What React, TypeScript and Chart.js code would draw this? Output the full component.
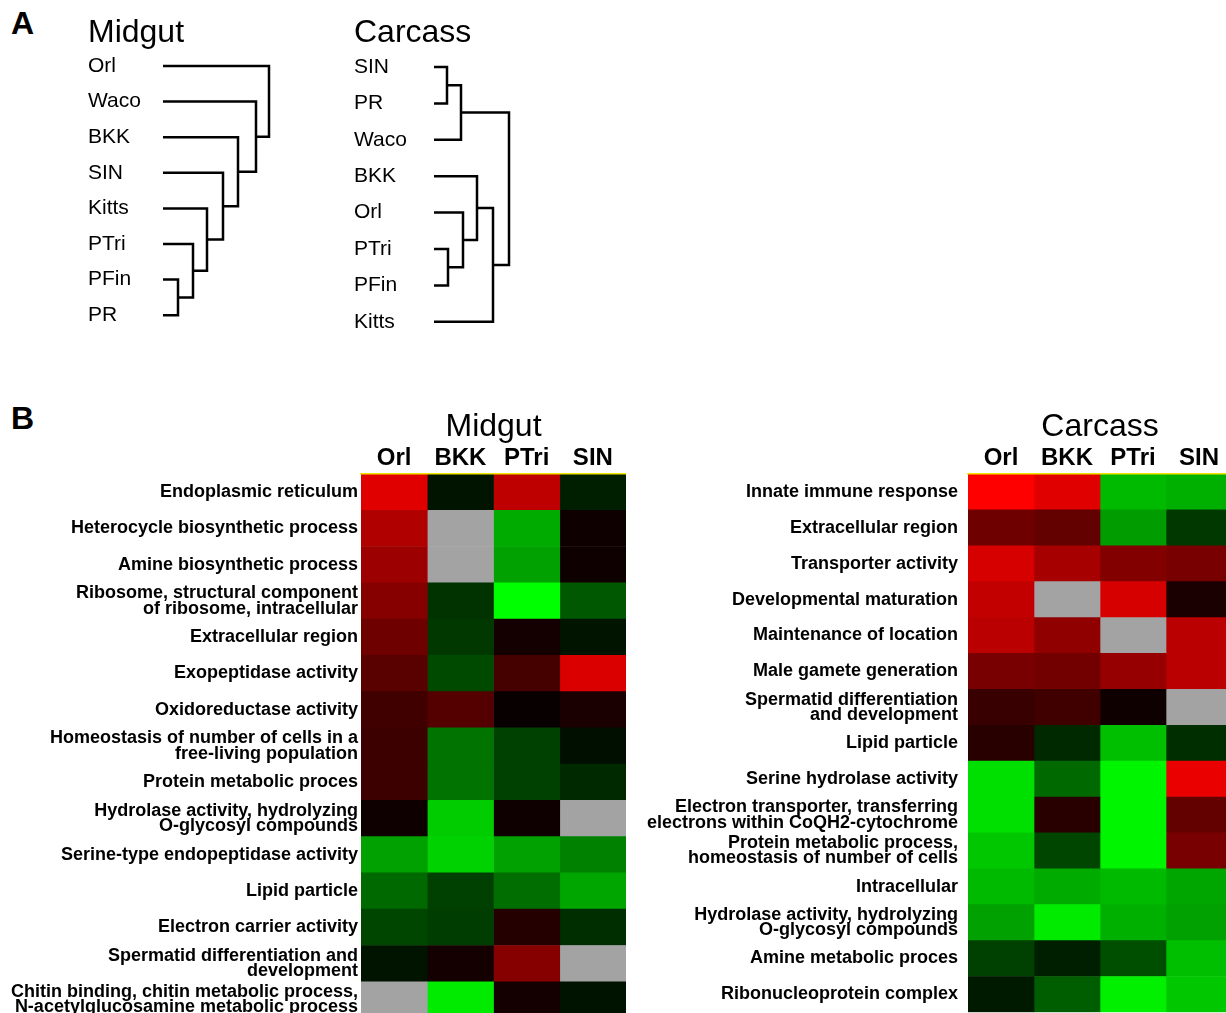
import React, { useEffect, useRef } from 'react';
import { Chart, registerables } from 'chart.js';

Chart.register(...registerables);

const FONT = '"Liberation Sans", Arial, Helvetica, sans-serif';

// ---------- Panel A: dendrograms ----------
const midgutLeaves = ['Orl', 'Waco', 'BKK', 'SIN', 'Kitts', 'PTri', 'PFin', 'PR'];
const midgutMergeLeft = ['PFin', 'PTri', 'Kitts', 'SIN', 'BKK', 'Waco', 'Orl'];
const midgutMergeRight = ['PR', '#0', '#1', '#2', '#3', '#4', '#5'];
const midgutMergeHeight = [15, 30, 44, 60, 75, 93, 106];

const carcassLeaves = ['SIN', 'PR', 'Waco', 'BKK', 'Orl', 'PTri', 'PFin', 'Kitts'];
const carcassMergeLeft = ['SIN', '#0', 'PTri', 'Orl', 'BKK', '#4', '#1'];
const carcassMergeRight = ['PR', 'Waco', 'PFin', '#2', '#3', 'Kitts', '#5'];
const carcassMergeHeight = [13, 27, 14, 29, 43, 59, 75];

// ---------- Panel B: heatmaps ----------
const heatColumns = ['Orl', 'BKK', 'PTri', 'SIN'];

const midgutTerms: (string | string[])[] = [
  'Endoplasmic reticulum',
  'Heterocycle biosynthetic process',
  'Amine biosynthetic process',
  ['Ribosome, structural component', 'of ribosome, intracellular'],
  'Extracellular region',
  'Exopeptidase activity',
  'Oxidoreductase activity',
  ['Homeostasis of number of cells in a', 'free-living population'],
  'Protein metabolic proces',
  ['Hydrolase activity, hydrolyzing', 'O-glycosyl compounds'],
  'Serine-type endopeptidase activity',
  'Lipid particle',
  'Electron carrier activity',
  ['Spermatid differentiation and', 'development'],
  ['Chitin binding, chitin metabolic process,', 'N-acetylglucosamine metabolic process'],
];
// positive = red (up), negative = green (down), null = no data (grey)
const midgutOrl = [0.88, 0.69, 0.61, 0.53, 0.43, 0.35, 0.25, 0.24, 0.24, 0.06, -0.63, -0.41, -0.27, -0.08, null];
const midgutBKK = [-0.08, null, null, -0.2, -0.22, -0.29, 0.33, -0.45, -0.45, -0.8, -0.82, -0.25, -0.24, 0.08, -0.92];
const midgutPTri = [0.75, -0.67, -0.63, -1.0, 0.08, 0.27, 0.03, -0.25, -0.25, 0.06, -0.63, -0.43, 0.14, 0.53, 0.08];
const midgutSIN = [-0.12, 0.06, 0.06, -0.35, -0.08, 0.86, 0.1, -0.06, -0.16, null, -0.51, -0.65, -0.18, null, -0.07];

const carcassTerms: (string | string[])[] = [
  'Innate immune response',
  'Extracellular region',
  'Transporter activity',
  'Developmental maturation',
  'Maintenance of location',
  'Male gamete generation',
  ['Spermatid differentiation', 'and development'],
  'Lipid particle',
  'Serine hydrolase activity',
  ['Electron transporter, transferring', 'electrons within CoQH2-cytochrome'],
  ['Protein metabolic process,', 'homeostasis of number of cells'],
  'Intracellular',
  ['Hydrolase activity, hydrolyzing', 'O-glycosyl compounds'],
  'Amine metabolic proces',
  'Ribonucleoprotein complex',
];
const carcassOrl = [1.0, 0.43, 0.84, 0.76, 0.73, 0.47, 0.22, 0.16, -0.88, -0.88, -0.78, -0.73, -0.63, -0.25, -0.1];
const carcassBKK = [0.88, 0.39, 0.65, null, 0.57, 0.45, 0.25, -0.16, -0.41, 0.16, -0.27, -0.67, -0.92, -0.12, -0.37];
const carcassPTri = [-0.73, -0.61, 0.51, 0.84, null, 0.59, 0.06, -0.75, -0.96, -0.96, -0.96, -0.73, -0.69, -0.31, -0.94];
const carcassSIN = [-0.69, -0.22, 0.47, 0.1, 0.73, 0.73, null, -0.18, 0.92, 0.39, 0.47, -0.65, -0.63, -0.75, -0.78];

function colorFor(v: number | null): string {
  if (v === null || v === undefined) return '#a3a3a3';
  const c = Math.round(255 * Math.min(1, Math.abs(v)));
  return v >= 0 ? `rgb(${c},0,0)` : `rgb(0,${c},0)`;
}

function dendroConfig(
  title: string,
  leaves: string[],
  mL: string[],
  mR: string[],
  mH: number[],
  xMax: number,
  yMin: number,
  yMax: number,
  axisWidth: number,
  padLeft: number
): any {
  const pos: Record<string, { x: number; y: number }> = {};
  leaves.forEach((n, i) => (pos[n] = { x: 0, y: i }));
  const datasets = mL.map((l, k) => {
    const a = pos[l];
    const b = pos[mR[k]];
    const h = mH[k];
    pos['#' + k] = { x: h, y: (a.y + b.y) / 2 };
    return {
      data: [
        { x: a.x, y: a.y },
        { x: h, y: a.y },
        { x: h, y: b.y },
        { x: b.x, y: b.y },
      ],
      showLine: true,
      borderColor: '#000',
      borderWidth: 2.5,
      pointRadius: 0,
      fill: false,
      tension: 0,
      clip: false,
    };
  });
  return {
    type: 'scatter',
    data: { datasets },
    options: {
      responsive: false,
      animation: false,
      devicePixelRatio: 1,
      layout: { padding: { left: padLeft, right: 0, top: 0, bottom: 18 } },
      plugins: {
        legend: { display: false },
        tooltip: { enabled: false },
        title: {
          display: true,
          text: title,
          align: 'start',
          color: '#000',
          font: { family: FONT, size: 32, weight: 'normal' },
          padding: { top: 14, bottom: 0 },
        },
      },
      scales: {
        x: { type: 'linear', display: false, min: 0, max: xMax },
        y: {
          type: 'linear',
          reverse: true,
          min: yMin,
          max: yMax,
          grid: { display: false, drawTicks: false },
          border: { display: false },
          afterFit: (s: any) => {
            s.width = axisWidth;
          },
          afterBuildTicks: (s: any) => {
            s.ticks = leaves.map((_, i) => ({ value: i }));
          },
          ticks: {
            autoSkip: false,
            crossAlign: 'far',
            padding: 0,
            color: '#000',
            font: { family: FONT, size: 21 },
            callback: (v: any) => leaves[Math.round(v)],
          },
        },
      },
    },
  };
}

function heatConfig(
  title: string,
  terms: (string | string[])[],
  cols: (number | null)[][],
  axisWidth: number,
  tickPad: number
): any {
  return {
    type: 'bar',
    data: {
      labels: terms,
      datasets: heatColumns.map((c, j) => ({
        label: c,
        data: terms.map(() => 1),
        backgroundColor: cols[j].map(colorFor),
        borderWidth: 0,
        barPercentage: 1,
        categoryPercentage: 1,
      })),
    },
    options: {
      indexAxis: 'y',
      responsive: false,
      animation: false,
      devicePixelRatio: 1,
      layout: { padding: { left: 0, right: 0, top: 0, bottom: 12 } },
      plugins: { legend: { display: false }, tooltip: { enabled: false } },
      scales: {
        x: {
          type: 'linear',
          position: 'top',
          stacked: true,
          min: 0,
          max: heatColumns.length,
          grid: { display: false, drawTicks: false },
          border: { display: true, color: '#f2e600', width: 1.5, z: 1 },
          afterFit: (s: any) => {
            s.height = 74;
          },
          afterBuildTicks: (s: any) => {
            s.ticks = heatColumns.map((_, j) => ({ value: j + 0.5 }));
          },
          ticks: {
            autoSkip: false,
            maxRotation: 0,
            padding: 1,
            color: '#000',
            font: { family: FONT, size: 24, weight: 'bold' },
            callback: (v: any) => heatColumns[Math.floor(v)],
          },
          title: {
            display: true,
            text: title,
            color: '#000',
            font: { family: FONT, size: 32, weight: 'normal' },
            padding: { top: 8, bottom: 0 },
          },
        },
        y: {
          type: 'category',
          stacked: true,
          grid: { display: false, drawTicks: false },
          border: { display: false },
          afterFit: (s: any) => {
            s.width = axisWidth;
          },
          ticks: {
            autoSkip: false,
            padding: tickPad,
            color: '#000',
            font: { family: FONT, size: 18, weight: 'bold', lineHeight: 0.85 },
          },
        },
      },
    },
  };
}

function ChartBox(props: { left: number; top: number; width: number; height: number; make: () => any }) {
  const ref = useRef<HTMLCanvasElement | null>(null);
  useEffect(() => {
    const chart = new Chart(ref.current as HTMLCanvasElement, props.make());
    return () => chart.destroy();
  }, []);
  return (
    <canvas
      ref={ref}
      width={props.width}
      height={props.height}
      style={{ position: 'absolute', left: props.left, top: props.top, width: props.width, height: props.height }}
    />
  );
}

const letterStyle: React.CSSProperties = {
  position: 'absolute',
  fontFamily: FONT,
  fontWeight: 'bold',
  fontSize: 32,
  lineHeight: '32px',
  color: '#000',
};

export default function App() {
  return (
    <div
      style={{
        position: 'fixed',
        left: 0,
        top: 0,
        width: 1226,
        height: 1013,
        overflow: 'hidden',
        background: '#fff',
      }}
    >
      <div style={{ ...letterStyle, left: 11, top: 7 }}>A</div>
      <div style={{ ...letterStyle, left: 11, top: 402 }}>B</div>
      <ChartBox
        left={80}
        top={0}
        width={193}
        height={351}
        make={() =>
          dendroConfig('Midgut', midgutLeaves, midgutMergeLeft, midgutMergeRight, midgutMergeHeight, 110, -0.382, 7.5, 75, 8)
        }
      />
      <ChartBox
        left={344}
        top={0}
        width={170}
        height={358}
        make={() =>
          dendroConfig('Carcass', carcassLeaves, carcassMergeLeft, carcassMergeRight, carcassMergeHeight, 80, -0.401, 7.5, 80, 10)
        }
      />
      <ChartBox
        left={0}
        top={400}
        width={626}
        height={630}
        make={() => heatConfig('Midgut', midgutTerms, [midgutOrl, midgutBKK, midgutPTri, midgutSIN], 361, 3)}
      />
      <ChartBox
        left={600}
        top={400}
        width={632}
        height={630}
        make={() => heatConfig('Carcass', carcassTerms, [carcassOrl, carcassBKK, carcassPTri, carcassSIN], 368, 10)}
      />
    </div>
  );
}
